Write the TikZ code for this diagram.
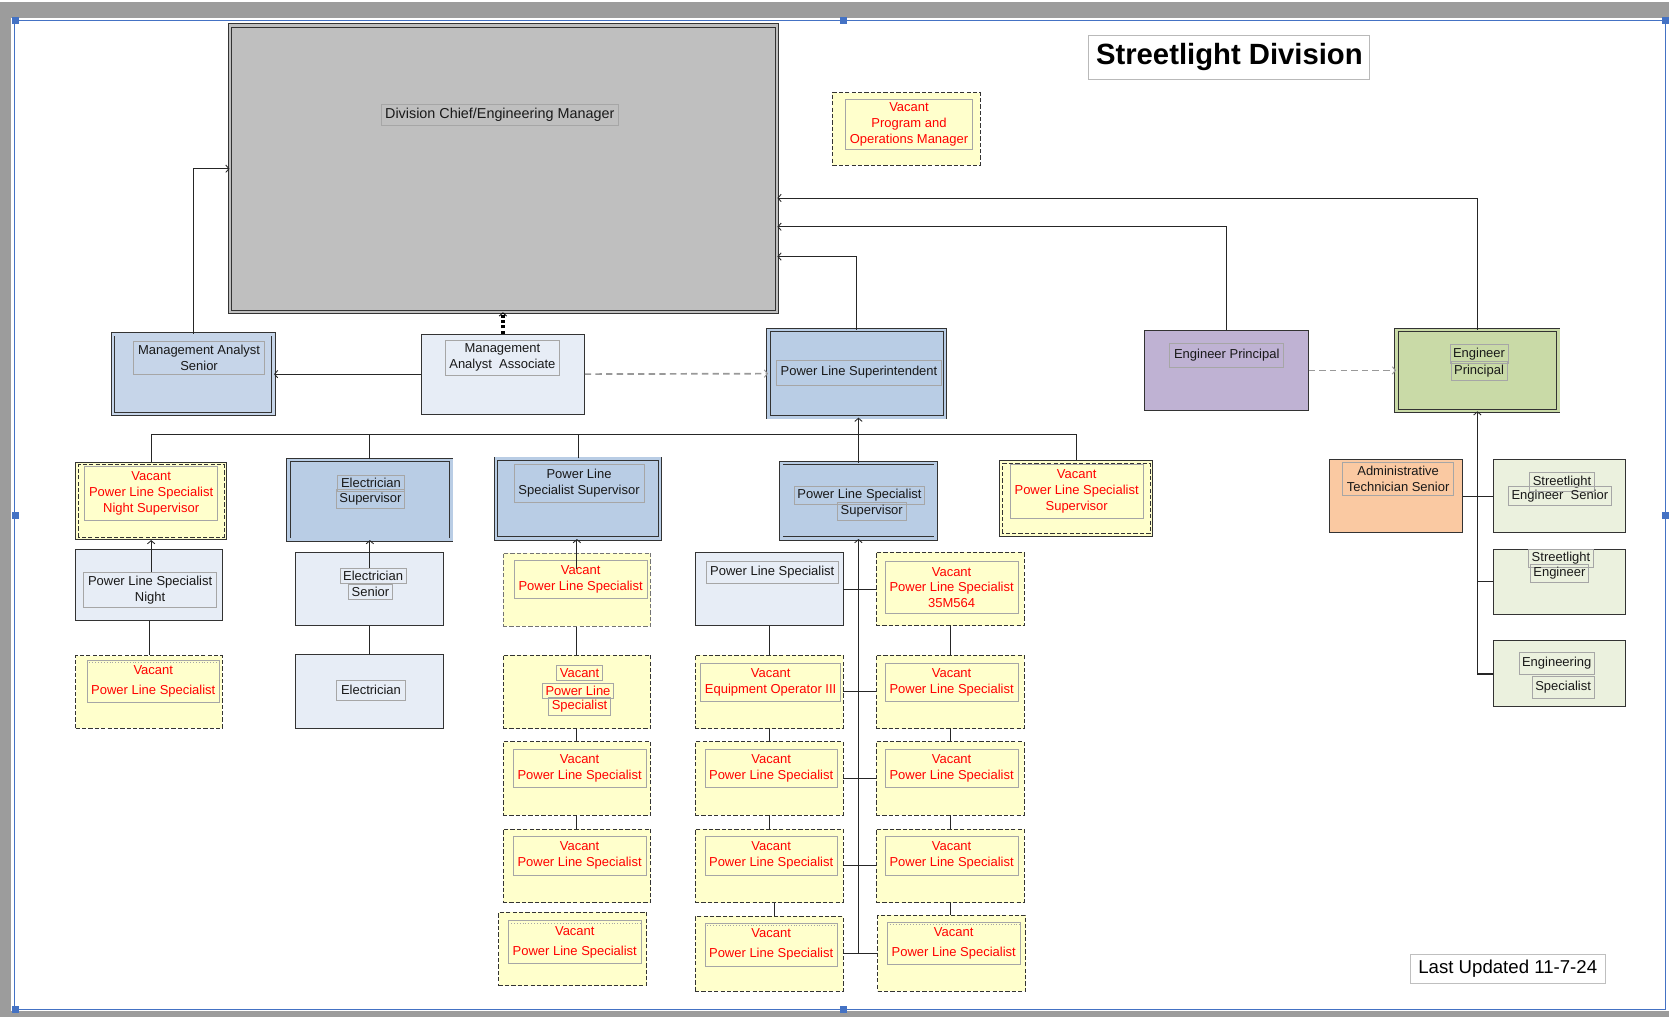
\documentclass[tikz,border=0pt]{standalone}
\usepackage{fontspec}
\setmainfont{Liberation Sans}
\usetikzlibrary{arrows.meta}

\definecolor{chiefgray}{HTML}{BFBFBF}
\definecolor{supblue}{HTML}{B9CDE5}
\definecolor{masblue}{HTML}{C6D5E9}
\definecolor{paleblue}{HTML}{E7EDF6}
\definecolor{vacyellow}{HTML}{FFFFCC}
\definecolor{engpurple}{HTML}{BFB2D3}
\definecolor{enggreen}{HTML}{C9DAA7}
\definecolor{palegreen}{HTML}{EBF1DE}
\definecolor{adminpeach}{HTML}{FAC9A2}
\definecolor{framegray}{HTML}{A6A6A6}
\definecolor{selblue}{HTML}{4472C4}
\definecolor{vacred}{HTML}{FF0000}

\begin{document}
\begin{tikzpicture}[x=1pt, y=-1pt,
	every node/.style={inner sep=0pt, align=center, font=\fontsize{12.2}{15}\selectfont},
	box/.style={draw=black!80, line width=0.8pt, minimum width=139pt, minimum height=69pt},
	dbox/.style={box, fill=#1, double=#1, double distance=2.4pt, line width=0.8pt},
	vac/.style={box, fill=vacyellow, dash pattern=on 4pt off 2pt},
	lbl/.style={draw=framegray, line width=0.6pt, inner xsep=4pt, inner ysep=5pt, text=black!90},
	vlbl/.style={lbl, text=vacred},
	tlbl/.style={lbl, inner xsep=3pt, inner ysep=3pt},
	link/.style={draw=black!85, line width=0.8pt, -{Straight Barb[length=3pt, width=7pt]}},
	glink/.style={draw=black!40, line width=1.6pt, dash pattern=on 6pt off 4pt, -{Straight Barb[length=3pt, width=7pt, line width=0.9pt]}},
	wire/.style={draw=black!85, line width=0.8pt}]

	\useasboundingbox (0,0) rectangle (1568,955);

	% window frame
	\fill[white] (0,0) rectangle (1568,955);
	\fill[gray!78] (0,2) rectangle (1568,17);
	\fill[gray!78] (0,2) rectangle (10,955);
	\fill[gray!78] (0,950) rectangle (1568,955);
	\draw[selblue, line width=1pt] (14,19) rectangle (1565,948);
	\fill[selblue] (11,16) rectangle (18,23);
	\fill[selblue] (789,16) rectangle (796,23);
	\fill[selblue] (1561,16) rectangle (1568,23);
	\fill[selblue] (11,481) rectangle (18,488);
	\fill[selblue] (1561,481) rectangle (1568,488);
	\fill[selblue] (11,945) rectangle (18,952);
	\fill[selblue] (789,945) rectangle (796,952);

	% top level
	\node[dbox=chiefgray, minimum width=514pt, minimum height=269pt] (chief) at (473,158.5) {};
	\node[lbl, inner ysep=3.5pt, font=\fontsize{13.5}{16}\selectfont] (chief-t) at (469.5,108) {Division Chief/Engineering Manager};

	\node[vac, minimum height=68pt] (progmgr) at (851.5,121) {};
	\node[vlbl, inner ysep=3pt] (progmgr-t) at (854,116.5) {Vacant\\Program and\\Operations Manager};

	\node[draw=gray!55, line width=1pt, minimum width=264pt, minimum height=42pt, font=\fontsize{27.5}{30}\selectfont\bfseries] (title) at (1155,54) {Streetlight Division};

	% second level
	\node[dbox=masblue, minimum width=151pt, minimum height=75pt] (mas) at (181.5,351.5) {};
	\node[lbl, inner ysep=3.5pt] (mas-t) at (187,336) {Management Analyst\\Senior};
	\node[box, fill=paleblue, minimum width=153pt, minimum height=75pt] (maa) at (472.5,351.5) {};
	\node[lbl, inner ysep=3.5pt] (maa-t) at (472,336) {Management\\Analyst\ \ Associate};
	\node[dbox=supblue, minimum width=166pt, minimum height=82pt] (plsup) at (805,351) {};
	\node[lbl, inner ysep=6pt] (plsup-t) at (807,350) {Power Line Superintendent};
	\node[box, fill=engpurple, minimum width=154pt, minimum height=76pt] (epp) at (1152,348) {};
	\node[lbl, inner ysep=5.5pt] (epp-t) at (1152.5,333.5) {Engineer Principal};
	\node[dbox=enggreen, minimum width=152pt, minimum height=76pt] (epg) at (1388,348) {};
	\node[tlbl] (epg-t1) at (1389.5,332.5) {Engineer};
	\node[tlbl] (epg-t2) at (1389.5,348.5) {Principal};

	% third level
	\node[box, fill=vacyellow, minimum width=142pt, minimum height=73pt] (nsup) at (142,470.5) {};
	\draw[black!80, line width=0.7pt, dash pattern=on 4pt off 2pt] ([shift={(3pt,3pt)}]nsup.south west) rectangle ([shift={(-3pt,-3pt)}]nsup.north east);
	\node[vlbl] (nsup-t) at (142,463.5) {Vacant\\Power Line Specialist\\Night Supervisor};
	\node[dbox=supblue, minimum width=153pt, minimum height=75pt] (esup) at (347.5,469.5) {};
	\node[tlbl] (esup-t1) at (348.5,454) {Electrician};
	\node[tlbl] (esup-t2) at (348,468.5) {Supervisor};
	\node[dbox=supblue, minimum width=154pt, minimum height=75pt] (plssup1) at (543,468.5) {};
	\node[lbl] (plssup1-t) at (544,454) {Power Line\\Specialist Supervisor};
	\node[dbox=supblue, minimum width=145pt, minimum height=71pt] (plssup2) at (806.5,470.5) {};
	\node[tlbl] (plssup2-t1) at (807.5,465.5) {Power Line Specialist};
	\node[tlbl] (plssup2-t2) at (819,480.5) {Supervisor};
	\node[box, fill=vacyellow, minimum width=144pt, minimum height=71pt] (vsup) at (1011,468.5) {};
	\draw[black!80, line width=0.7pt, dash pattern=on 4pt off 2pt] ([shift={(3pt,3pt)}]vsup.south west) rectangle ([shift={(-3pt,-3pt)}]vsup.north east);
	\node[vlbl] (vsup-t) at (1011.5,461.5) {Vacant\\Power Line Specialist\\Supervisor};

	\node[box, fill=adminpeach, minimum width=125pt, minimum height=68pt] (admin) at (1311.5,466) {};
	\node[lbl, inner ysep=3.5pt] (admin-t) at (1313.5,449.5) {Administrative\\Technician Senior};
	\node[box, fill=palegreen, minimum width=124pt, minimum height=68pt] (sesr) at (1465,466) {};
	\node[tlbl] (sesr-t1) at (1467.5,452.5) {Streetlight};
	\node[tlbl] (sesr-t2) at (1465.5,466) {Engineer\ \ Senior};
	\node[box, fill=palegreen, minimum width=124pt, minimum height=61pt] (seng) at (1465,546.5) {};
	\node[tlbl] (seng-t1) at (1466.5,524.5) {Streetlight};
	\node[tlbl] (seng-t2) at (1465,538.5) {Engineer};
	\node[box, fill=palegreen, minimum width=124pt, minimum height=62pt] (espec) at (1465,633) {};
	\node[tlbl, inner ysep=4.5pt] (espec-t1) at (1462.5,623) {Engineering};
	\node[tlbl, inner ysep=4.5pt] (espec-t2) at (1468.5,646) {Specialist};

	% column 1
	\node[box, fill=paleblue, minimum width=138pt, minimum height=67pt] (night) at (140,549.5) {};
	\node[lbl, inner ysep=3pt] (night-t) at (141,554) {Power Line Specialist\\Night};
	\node[vac, minimum width=138pt, minimum height=68pt] (c1v) at (140,650) {};
	\node[vlbl] (c1v-t) at (144,640) {Vacant\\[4pt]Power Line Specialist};

	% column 2
	\node[box, fill=paleblue] (esr) at (347.5,553.5) {};
	\node[tlbl] (esr-t1) at (350.5,541) {Electrician};
	\node[tlbl] (esr-t2) at (348,556) {Senior};
	\node[box, fill=paleblue] (elec) at (347.5,649.5) {};
	\node[lbl, inner ysep=4.5pt] (elec-t) at (348.5,648.5) {Electrician};

	% column 3
	\node[vac, draw=black!55] (c3a) at (542,554) {};
	\node[vlbl] (c3a-t) at (545.5,544.5) {Vacant\\Power Line Specialist};
	\node[vac] (c3b) at (542,650) {};
	\node[tlbl, text=vacred] (c3b-t1) at (544.5,632) {Vacant};
	\node[tlbl, text=vacred] (c3b-t2) at (543,649) {Power Line};
	\node[tlbl, text=vacred] (c3b-t3) at (544.5,663.5) {Specialist};
	\node[vac] (c3c) at (542,731.5) {};
	\node[vlbl] (c3c-t) at (544.5,722) {Vacant\\Power Line Specialist};
	\node[vac] (c3d) at (542,813.5) {};
	\node[vlbl] (c3d-t) at (544.5,804) {Vacant\\Power Line Specialist};
	\node[vac] (c3e) at (538,891.5) {};
	\node[vlbl] (c3e-t) at (540,885) {Vacant\\[4pt]Power Line Specialist};

	% column 4
	\node[box, fill=paleblue] (pls) at (722.5,553.5) {};
	\node[lbl, inner ysep=4.8pt] (pls-t) at (725.5,537.5) {Power Line Specialist};
	\node[vac] (c4b) at (722.5,650) {};
	\node[vlbl] (c4b-t) at (724,641) {Vacant\\Equipment Operator III};
	\node[vac] (c4c) at (722.5,731.5) {};
	\node[vlbl] (c4c-t) at (724.5,722) {Vacant\\Power Line Specialist};
	\node[vac] (c4d) at (722.5,813.5) {};
	\node[vlbl] (c4d-t) at (724.5,804) {Vacant\\Power Line Specialist};
	\node[vac, minimum height=70pt] (c4e) at (722.5,896) {};
	\node[vlbl] (c4e-t) at (724.5,887.5) {Vacant\\[4pt]Power Line Specialist};

	% column 5
	\node[vac] (c5a) at (892.5,553.5) {};
	\node[vlbl] (c5a-t) at (894,552) {Vacant\\Power Line Specialist\\35M564};
	\node[vac] (c5b) at (892.5,650) {};
	\node[vlbl] (c5b-t) at (894,641) {Vacant\\Power Line Specialist};
	\node[vac] (c5c) at (892.5,731.5) {};
	\node[vlbl] (c5c-t) at (894,722) {Vacant\\Power Line Specialist};
	\node[vac] (c5d) at (892.5,813.5) {};
	\node[vlbl] (c5d-t) at (894,804) {Vacant\\Power Line Specialist};
	\node[vac, minimum height=71pt] (c5e) at (894,895.5) {};
	\node[vlbl] (c5e-t) at (896,886) {Vacant\\[4pt]Power Line Specialist};

	\draw[gray!70, dotted, line width=0.7pt] ([yshift=-2.5pt]c1v-t.north west) -- ([yshift=-2.5pt]c1v-t.north east);
	\draw[gray!70, dotted, line width=0.7pt] ([yshift=-2.5pt]c3e-t.north west) -- ([yshift=-2.5pt]c3e-t.north east);
	\draw[gray!70, dotted, line width=0.7pt] ([yshift=-2.5pt]c4e-t.north west) -- ([yshift=-2.5pt]c4e-t.north east);
	\draw[gray!70, dotted, line width=0.7pt] ([yshift=-2.5pt]c5e-t.north west) -- ([yshift=-2.5pt]c5e-t.north east);

	\node[draw=gray!50, line width=0.8pt, minimum width=183pt, minimum height=27pt, font=\fontsize{17.5}{20}\selectfont] (updated) at (1416.5,910.5) {Last Updated 11-7-24};

	% reporting lines to the chief
	\draw[link] (mas.north) |- (chief.west);
	\draw[draw=black, line width=4.5pt, dash pattern=on 3pt off 2pt, -{Straight Barb[length=3pt, width=7pt, line width=0.8pt]}] (maa.north) -- (maa.north |- chief.south);
	\draw[link] (maa.west) -- (mas.east);
	\draw[glink] (maa.east) -- (plsup.west);
	\draw[link] (plsup.north) |- ([yshift=-82.5pt]chief.east);
	\draw[link] (epp.north) |- ([yshift=-54.5pt]chief.east);
	\draw[link] (epg.north) |- ([yshift=-27.5pt]chief.east);
	\draw[glink] (epp.east) -- (epg.west);

	% superintendent branch
	\coordinate (bus) at (806.5,408);
	\draw[wire] (nsup.north) |- (bus) -| (vsup.north);
	\draw[wire] (esup.north) |- (bus);
	\draw[wire] (plssup1.north) |- (bus);
	\draw[link] (plssup2.north) -- (plssup2.north |- plsup.south);

	\draw[link] (night-t.north -| nsup.south) -- (nsup.south);
	\draw[wire] (night.south) -- (c1v.north);
	\draw[link] (esr-t1.north -| esup.south) -- (esup.south);
	\draw[wire] (esr.south) -- (elec.north);
	\draw[link] ([yshift=-8pt]c3a-t.north -| c3a.center) -- (c3a.center |- plssup1.south);
	\draw[wire] (c3a.south) -- (c3b.north);
	\draw[wire] (c3b.south) -- (c3c.north);
	\draw[wire] (c3c.south) -- (c3d.north);
	\draw[wire] (pls.south) -- (c4b.north);
	\draw[wire] (c4b.south) -- (c4c.north);
	\draw[wire] (c4c.south) -- (c4d.north);
	\draw[wire] ([xshift=5pt]c4d.south) -- ([xshift=5pt]c4d.south |- c4e.north);
	\draw[wire] (c5a.south) -- (c5b.north);
	\draw[wire] (c5b.south) -- (c5c.north);
	\draw[wire] (c5c.south) -- (c5d.north);
	\draw[wire] (c5d.south) -- (c5d.south |- c5e.north);

	\draw[link] (plssup2.south |- c4e.east) -- (plssup2.south);
	\draw[wire] (pls.east) -- (c5a.west);
	\draw[wire] (c4b.east) -- (c5b.west);
	\draw[wire] (c4c.east) -- (c5c.west);
	\draw[wire] (c4d.east) -- (c5d.west);
	\draw[wire] (c4e.east) -- (c4e.east -| c5e.west);

	% engineering branch
	\draw[link] (epg.south |- espec.west) -- (epg.south);
	\draw[wire] (admin.east) -- (sesr.west);
	\draw[wire] (epg.south |- seng.west) -- (seng.west);
	\draw[wire, line width=1.6pt] (epg.south |- espec.west) -- (espec.west);

\end{tikzpicture}
\end{document}
